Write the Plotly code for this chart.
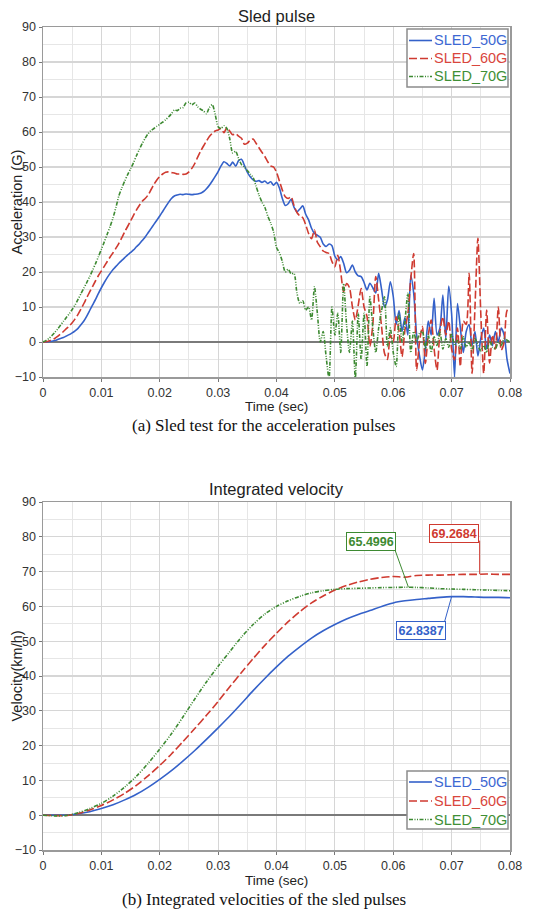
import plotly.graph_objects as go

W, H = 533, 911
DT_ACC = 0.0005   # sampling step of the read-off acceleration traces (s)
DT_VEL = 0.002    # sampling step of the read-off velocity traces (s)

series_names = ["SLED_50G", "SLED_60G", "SLED_70G"]
line_colors = ["#3461c9", "#cf3a30", "#3d8a32"]
text_colors = ["#3d68d3", "#d9463d", "#3f8f36"]
dashes = ["solid", "8px,3px", "4px,1.5px,1px,1.5px,1px,1.5px"]

acc_50g = [0, 0, 0.1, 0.2, 0.4, 0.7, 1.0, 1.3, 1.7, 2.1, 2.6,
           3.2, 3.9, 4.9, 6.0, 7.4, 9.0, 10.6, 12.2, 13.9, 15.5,
           17.0, 18.4, 19.6, 20.7, 21.6, 22.5, 23.3, 24.1, 24.9, 25.6,
           26.3, 27.2, 28.0, 29.0, 30.0, 31.2, 32.4, 33.6, 34.8, 36.0,
           37.3, 38.6, 39.9, 41.0, 41.7, 42.0, 42.2, 42.1, 42.3, 42.2,
           42.1, 42.2, 42.3, 42.5, 43.0, 43.8, 44.8, 46.0, 47.3, 48.7,
           50.3, 51.5, 51.0, 50.3, 51.4, 50.2, 51.8, 52.2, 50.5, 48.5,
           47.2, 46.3, 45.9, 46.1, 45.6, 46.0,
           45.3, 45.8, 44.8, 45.6, 44.0, 41.0, 39.0, 39.5, 40.8, 38.5,
           37.2, 38.0, 38.9, 36.5, 34.9, 32.5, 31.0, 30.5, 29.9, 28.0,
           27.3, 28.0, 27.5, 24.5, 23.5, 24.4, 22.5, 19.8, 20.5, 22.0,
           20.0, 18.9, 18.7, 17.0, 14.9, 16.8, 15.5, 14.0, 19.6, 15.0,
           10.0, 12.0, 17.2, 13.0,
           5, 9, 3, 7, 2, 19, 14, 2, -4, -8,
           -2, 6, 2, 12.5, 2, 4, 13.4, 1, 16, 8,
           -10, 11, 4, -3, 3, 5, -1, 3, -4, 1,
           4, -2, 2, -1, 3, 0, 4, 2, -5, -9]

acc_60g = [0, 0.1, 0.3, 0.6, 1.0, 1.6, 2.3, 3.0, 3.8, 4.6, 5.5,
           6.6, 7.9, 9.4, 11.0, 12.7, 14.3, 15.9, 17.5, 19.0, 20.3,
           21.6, 23.0, 24.3, 25.5, 26.8, 28.2, 29.8, 31.5, 33.0, 34.6,
           36.2, 37.7, 39.0, 40.2, 41.0, 42.0, 43.5, 45.0, 46.3, 47.3,
           48.0, 48.5, 48.6, 48.4, 48.3, 48.0, 48.0, 47.9, 48.0, 48.6,
           49.6, 51.0, 52.8, 54.5, 56.0, 57.4, 58.7, 59.6, 60.3, 60.6,
           61.0, 59.8, 61.3, 60.2, 59.2, 59.5, 58.8, 58.2, 56.5, 56.8,
           57.7, 58.0, 56.8, 55.5, 54.2, 53.0, 51.5, 50.3, 50.0, 48.5,
           46.0, 43.4, 41.5, 41.0, 41.5, 39.0, 37.0, 36.0, 35.5, 33.5,
           31.0, 29.5, 32.0, 28.5, 27.2, 26.0, 25.6, 25.3, 23.0, 21.5,
           24.8, 20.0, 14.4, 16.7, 15.5, 10.1, 6.3, 10.5, 15.3, 10.0,
           7.3, -1.3, 5.0, 18.7, 12.0, 4.4, -3.2, -5.0, 2.0, 0.0,
           7.2, 3.0, -4.2, 3.4, 8.0, 18.0, 25.3, -8.0, 0.0, 4.4,
           -6.1, 2.0, 6.3, -2.0, -8.0, 3.0, 7.2, 2.0, 6.0, -2.0,
           -5.1, 4.0, -7.0, 6.0, 5.0, 19.6, -9.0, 10.0, 29.6, 8.0,
           -9.0, 9.1, -6.0, 2.0, -2.0, 10.0, -2.3, 0.0, 9.0, 9.5]

acc_70g = [0, 0.4, 1.0, 1.8, 2.7, 3.7, 4.8, 5.9, 7.0, 8.1, 9.3,
           10.6, 12.2, 13.8, 15.4, 17.0, 18.7, 20.5, 22.4, 24.4, 26.5,
           28.6, 30.8, 33.0, 35.5, 38.5, 41.8, 44.0, 46.0, 47.8, 49.5,
           51.2, 53.2, 55.0, 56.7, 58.2, 59.5, 60.4, 61.0, 61.6, 62.2,
           62.8, 63.5, 64.3, 65.2, 66.3, 66.1, 66.8, 67.0, 68.3, 68.5,
           67.8, 68.3, 67.2, 66.5, 66.0, 65.2, 67.0, 67.8, 65.0, 61.5,
           61.0, 61.8, 61.0, 58.0, 54.0, 54.5, 52.5, 50.7, 50.0, 49.0,
           48.0, 47.0, 44.5, 42.0, 40.0, 38.5, 36.0, 34.0, 31.5, 27.0,
           25.5, 23.0, 20.0, 20.8, 19.5, 19.6, 14.0, 11.0, 11.8, 9.1,
           10.0, 6.3, 15.8, 8.2, 0.0, 3.0, -4.2, -10.5, 10.0, 2.0,
           8.2, -3.0, 16.7, 5.0, -3.0, 6.0, -10.5, 8.2, -5.0, 8.2,
           -7.0, 12.9, 4.0, -3.0, 4.0, 9.0, 12.9, -1.3, 4.0, -3.0,
           -7.0, 8.2, 0.0, 6.0, 13.9, -3.0, 3.0, 0.0, 2.5, 3.0,
           -2.0, 2.0, -3.0, 1.5, -1.0, 3.0, -2.0, 1.0, -1.5, 2.5,
           -1.0, 0.5, -2.0, 1.5, -1.5, 0.0, -2.5, 1.0, -1.0, -2.5,
           -1.0, -3.0, 0.5, -1.5, -2.0, 0.0, -1.0, 1.0, 0.5, 0.0]

vel_50g = [0, 0.0, 0.0, 0.4, 1.0, 1.9, 3.0, 4.4, 6.0, 8.0, 10.3,
           12.8, 15.6, 18.6, 21.8, 25.1, 28.5, 32.1, 35.8, 39.3, 42.6,
           45.7, 48.4, 50.9, 53.0, 54.8, 56.4, 57.7, 58.8, 60.0, 61.0,
           61.6, 62.0, 62.3, 62.6, 62.8, 62.8, 62.7, 62.6, 62.6, 62.5]
vel_60g = [0, -0.1, -0.1, 0.5, 1.5, 2.8, 4.4, 6.3, 8.6, 11.3, 14.3,
           17.6, 21.2, 24.9, 28.7, 32.7, 36.9, 41.0, 45.0, 48.8, 52.3,
           55.6, 58.5, 61.0, 63.0, 64.7, 66.0, 67.0, 67.8, 68.3, 68.6,
           68.4, 68.9, 69.0, 69.0, 69.1, 69.2, 69.2, 69.3, 69.2, 69.2]
vel_70g = [0, -0.2, -0.1, 0.7, 1.9, 3.4, 5.5, 8.1, 11.2, 14.9, 19.0,
           23.4, 28.3, 33.4, 38.3, 42.8, 47.0, 51.2, 54.8, 57.8, 60.0,
           61.6, 62.9, 63.9, 64.5, 64.9, 65.1, 65.2, 65.3, 65.4, 65.45,
           65.5, 65.45, 65.3, 65.1, 65.0, 64.9, 64.8, 64.7, 64.6, 64.5]

acc_series = [acc_50g, acc_60g, acc_70g]
vel_series = [vel_50g, vel_60g, vel_70g]

# labelled velocity values
label_times = [0.0700, 0.0748, 0.0626]
label_values = [62.8387, 69.2684, 65.4996]

x_ticks = [0, 0.01, 0.02, 0.03, 0.04, 0.05, 0.06, 0.07, 0.08]
x_tick_text = ["0", "0.01", "0.02", "0.03", "0.04", "0.05", "0.06", "0.07", "0.08"]
y_ticks = [-10, 0, 10, 20, 30, 40, 50, 60, 70, 80, 90]

FONT = "Liberation Sans, Arial, sans-serif"
SERIF = "Liberation Serif, Times New Roman, serif"


def px(x):
    return x / W


def py(y):
    return 1 - y / H


X0, X1 = 43, 510
TOP = (27, 377)
BOT = (502, 850)

fig = go.Figure()

for k in range(3):
    t_acc = [round(i * DT_ACC, 5) for i in range(len(acc_series[k]))]
    fig.add_trace(go.Scatter(
        x=t_acc, y=acc_series[k], mode="lines", name=series_names[k],
        line=dict(color=line_colors[k], width=1.6, dash=dashes[k],
                  shape="spline", smoothing=0.7),
        xaxis="x", yaxis="y", showlegend=False, hoverinfo="skip"))
for k in range(3):
    t_vel = [round(i * DT_VEL, 4) for i in range(len(vel_series[k]))]
    fig.add_trace(go.Scatter(
        x=t_vel, y=vel_series[k], mode="lines", name=series_names[k],
        line=dict(color=line_colors[k], width=1.6, dash=dashes[k],
                  shape="spline", smoothing=0.8),
        xaxis="x2", yaxis="y2", showlegend=False, hoverinfo="skip"))

axis_common = dict(
    automargin=False,
    showline=True, mirror=True, linecolor="#9a9a9a", linewidth=1.5,
    ticks="outside", ticklen=3, tickcolor="#777", tickwidth=1,
    showgrid=True, gridcolor="#d6d6d6", gridwidth=1.2,
    tickfont=dict(family=FONT, size=12.5, color="#333"),
)
xcommon = dict(axis_common, range=[0, 0.08], tickvals=x_ticks, ticktext=x_tick_text,
               zeroline=False,
               minor=dict(dtick=0.005, tick0=0, showgrid=True, gridcolor="#e6e6e6",
                          gridwidth=1, ticks=""))
ycommon = dict(axis_common, range=[-10, 90], tickvals=y_ticks,
               zeroline=True, zerolinecolor="#7a7a7a", zerolinewidth=1.5,
               minor=dict(dtick=5, tick0=0, showgrid=True, gridcolor="#e6e6e6",
                          gridwidth=1, ticks=""))

fig.update_layout(
    width=W, height=H, margin=dict(l=0, r=0, t=0, b=0, autoexpand=False),
    paper_bgcolor="white", plot_bgcolor="white", showlegend=False,
    xaxis=dict(xcommon, domain=[px(X0), px(X1)], anchor="y"),
    yaxis=dict(ycommon, domain=[py(TOP[1]), py(TOP[0])], anchor="x"),
    xaxis2=dict(xcommon, domain=[px(X0), px(X1)], anchor="y2"),
    yaxis2=dict(ycommon, domain=[py(BOT[1]), py(BOT[0])], anchor="x2"),
)

ann = []
shapes = []


def text(x, y, s, size, family=FONT, color="#222", angle=0, xanchor="center"):
    ann.append(dict(x=px(x), y=py(y), xref="paper", yref="paper", text=s,
                    showarrow=False, font=dict(family=family, size=size, color=color),
                    textangle=angle, xanchor=xanchor, yanchor="middle"))


cx = (X0 + X1) / 2
# titles / axis titles / captions
text(cx, 15.5, "Sled pulse", 16.5)
text(cx, 489, "Integrated velocity", 16.5)
text(cx, 406.5, "Time (sec)", 13.5)
text(cx, 880.5, "Time (sec)", 13.5)
text(16.5, (TOP[0] + TOP[1]) / 2, "Acceleration (G)", 14.5, angle=-90)
text(16.5, (BOT[0] + BOT[1]) / 2, "Velocity(km/h)", 14.5, angle=-90)
text(263.5, 425.5, "(a) Sled test for the acceleration pulses", 17, family=SERIF, color="#111")
text(263.5, 899, "(b) Integrated velocities of the sled pulses", 17, family=SERIF, color="#111")


def legend(box, rows):
    x0, y0, x1, y1 = box
    shapes.append(dict(type="rect", xref="paper", yref="paper",
                       x0=px(x0), x1=px(x1), y0=py(y1), y1=py(y0),
                       line=dict(color="#8c8c8c", width=1.5), fillcolor="white",
                       layer="above"))
    for k, ry in enumerate(rows):
        shapes.append(dict(type="line", xref="paper", yref="paper",
                           x0=px(x0 + 2), x1=px(x0 + 25), y0=py(ry), y1=py(ry),
                           line=dict(color=line_colors[k], width=1.6, dash=dashes[k]),
                           layer="above"))
        text(x0 + 25, ry, series_names[k], 14.5, color=text_colors[k], xanchor="left")


legend((407, 29, 508, 87), [40.5, 58.5, 76.5])
legend((407, 771, 508, 829), [782, 801, 819.5])

# value labels on the velocity plot: label centre offset (dx, dy; +dy = down) and
# the leader-line end offset from the labelled point (screen px, +down)
label_geo = [
    (-31, 34, (-7, 25)),
    (-26, -41, (0, -33.5)),
    (-37, -46, (-13.5, -37.5)),
]
for k in range(3):
    dx, dy, (lx, ly) = label_geo[k]
    ann.append(dict(x=label_times[k], y=label_values[k], xref="x2", yref="y2",
                    text="<b>%.4f</b>" % label_values[k], showarrow=False,
                    xshift=dx, yshift=-dy,
                    font=dict(family=FONT, size=12.5, color=line_colors[k]),
                    bgcolor="white", bordercolor=line_colors[k], borderwidth=1,
                    borderpad=1.5))
    shapes.append(dict(type="line", xref="x2", yref="y2",
                       xsizemode="pixel", ysizemode="pixel",
                       xanchor=label_times[k], yanchor=label_values[k],
                       x0=0, y0=0, x1=lx, y1=-ly,
                       line=dict(color=line_colors[k], width=1), layer="above"))

fig.update_layout(annotations=ann, shapes=shapes)
fig.write_html("out.html", config={"displayModeBar": False, "staticPlot": True},
               post_script="document.body.style.margin='0';document.body.style.padding='0';")
